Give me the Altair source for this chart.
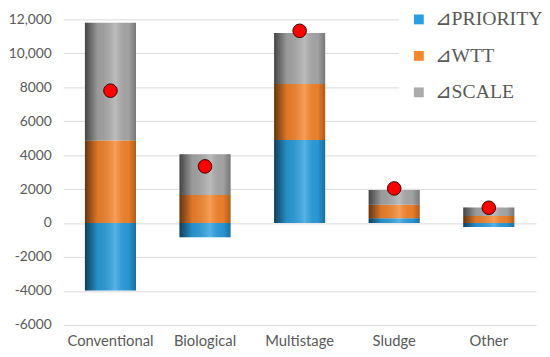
import altair as alt
import pandas as pd

categories = ["Conventional", "Biological", "Multistage", "Sludge", "Other"]
series_names = ["⊿PRIORITY", "⊿WTT", "⊿SCALE"]
priority = [-3970, -830, 4900, 280, -240]
wtt = [4870, 1650, 3300, 800, 420]
scale_vals = [6930, 2410, 3000, 870, 490]
net = [7800, 3340, 11330, 2040, 900]
colors = ["#2A9FDF", "#F7852C", "#ABABAB"]
y_ticks = [-6000, -4000, -2000, 0, 2000, 4000, 6000, 8000, 10000, 12000]

rows = []
for i, c in enumerate(categories):
    for k, (s, vals) in enumerate(zip(series_names, [priority, wtt, scale_vals])):
        rows.append({"category": c, "series": s, "value": vals[i], "order": k})
df = pd.DataFrame(rows)
dots = pd.DataFrame({"category": categories, "value": net})

x_axis = alt.Axis(labelAngle=0, labelFont="Lato", labelFontSize=15,
                  labelColor="#595959", ticks=False, domain=False,
                  labelPadding=9, labelOverlap=False)
y_axis = alt.Axis(values=y_ticks, labelOverlap=False, labelBound=False,
                  labelExpr="replace(abs(datum.value) >= 10000 ? format(datum.value, ',') : format(datum.value, 'd'), '\u2212', '-')",
                  labelFont="Lato", labelFontSize=14, labelColor="#595959",
                  ticks=False, domain=False, labelPadding=12,
                  gridColor="#D9D9D9", gridWidth=1)
x_scale = alt.Scale(paddingInner=0.46, paddingOuter=0.23)
y_scale = alt.Scale(domain=[-6000, 12000], nice=False)


def xe():
    return alt.X("category:N", sort=categories, title=None, scale=x_scale, axis=x_axis)


def ye(stack):
    if stack:
        return alt.Y("value:Q", stack="zero", title=None, scale=y_scale, axis=y_axis)
    return alt.Y("value:Q", title=None, scale=y_scale, axis=y_axis)


bars = alt.Chart(df).mark_bar().encode(
    x=xe(),
    y=ye(True),
    color=alt.Color("series:N", sort=series_names,
                    scale=alt.Scale(domain=series_names, range=colors),
                    legend=alt.Legend(title=None, orient="none", legendX=341, legendY=-20,
                                      fillColor="white", padding=10, rowPadding=17,
                                      symbolType="square", symbolSize=100,
                                      symbolStrokeWidth=0, labelFont="Liberation Serif",
                                      labelFontSize=20, labelColor="#595959",
                                      labelOffset=6, labelLimit=200)),
    order=alt.Order("order:Q"),
)

shade = alt.Chart(df).mark_bar(
    fill=alt.Gradient(gradient="linear", x1=0, x2=1, y1=0, y2=0, stops=[
        alt.GradientStop(offset=0, color="rgba(0,0,0,0.6)"),
        alt.GradientStop(offset=0.25, color="rgba(0,0,0,0.1)"),
        alt.GradientStop(offset=0.6, color="rgba(255,255,255,0.2)"),
        alt.GradientStop(offset=0.85, color="rgba(0,0,0,0.05)"),
        alt.GradientStop(offset=1, color="rgba(0,0,0,0.3)"),
    ])
).encode(
    x=xe(),
    y=ye(True),
    detail="series:N",
    order=alt.Order("order:Q"),
)

points = alt.Chart(dots).mark_point(
    shape="circle", filled=True, fill="#FF0000", stroke="#3A0000",
    strokeWidth=1, size=190, opacity=1
).encode(
    x=xe(),
    y=ye(False),
)

chart = alt.layer(bars, shade, points).properties(
    width=480, height=310,
    autosize=alt.AutoSizeParams(type="none"),
    padding={"left": 56, "top": 9, "right": 6, "bottom": 28},
).configure_view(stroke=None)

chart.save("out.html", embed_options={"renderer": "svg", "actions": False})
